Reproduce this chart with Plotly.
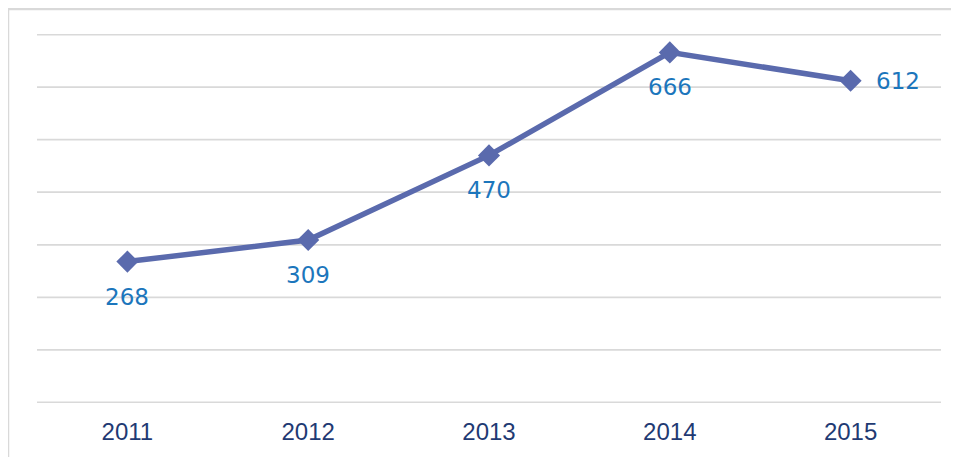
import plotly.graph_objects as go

years = ["2011", "2012", "2013", "2014", "2015"]
values = [268, 309, 470, 666, 612]
y_ticks = [0, 100, 200, 300, 400, 500, 600, 700]

# page body has an 8px margin
W, H = 951, 449
ml, mt = 29, 26
pw, ph = 904, 369
mr = W - ml - pw
mb = H - mt - ph

fig = go.Figure()

for t in y_ticks:
    fig.add_shape(
        type="line", xref="paper", yref="y", x0=0, x1=1, y0=t, y1=t,
        line=dict(color="#D9D9D9", width=1.8), layer="below",
    )

fig.add_trace(go.Scatter(
    x=years, y=values, mode="lines+markers",
    line=dict(color="#5A6AAD", width=5.5),
    marker=dict(symbol="diamond", size=17, color="#5A6AAD"),
    hoverinfo="skip", showlegend=False,
))

for i, v in enumerate(values):
    last = i == len(values) - 1
    fig.add_annotation(
        x=i, y=v, xref="x", yref="y", text=str(v), showarrow=False,
        xanchor="center", yanchor="middle",
        xshift=47 if last else 0, yshift=0 if last else -35,
        font=dict(family="DejaVu Sans", size=23, color="#1C76BC"),
    )

fig.add_shape(
    type="rect", xref="paper", yref="paper",
    x0=(0 - ml) / pw, x1=(W + 30 - ml) / pw,
    y0=-(H + 30 - mt - ph) / ph, y1=(ph + mt - 1) / ph,
    line=dict(color="#D9D9D9", width=2.5), layer="below",
)

fig.update_layout(
    width=W, height=H,
    margin=dict(l=ml, r=mr, t=mt, b=mb),
    plot_bgcolor="white", paper_bgcolor="white",
    xaxis=dict(
        type="category", showgrid=False, zeroline=False, showline=False,
        ticks="", tickfont=dict(family="Liberation Sans", size=24, color="#1F3A73"),
        range=[-0.5, 4.5], ticklabelstandoff=12,
    ),
    yaxis=dict(
        range=[-1, 701], showticklabels=False, showgrid=False,
        zeroline=False, showline=False, ticks="",
    ),
)

fig.write_html("out.html")
